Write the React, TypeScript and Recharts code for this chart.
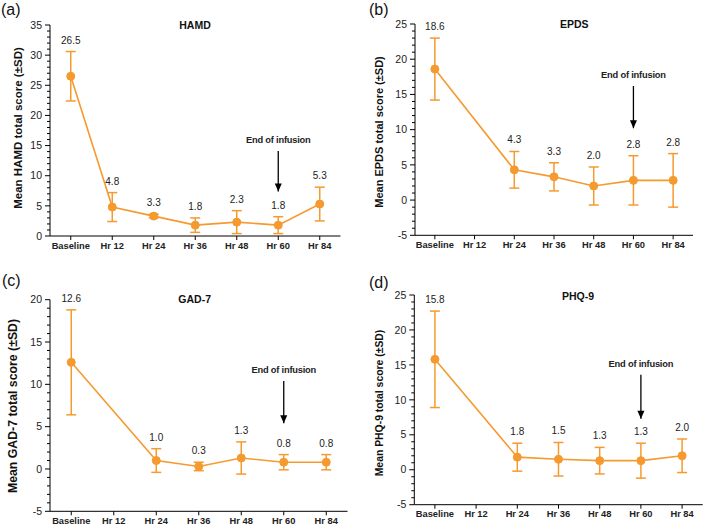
import React from "react";
import {
  LineChart,
  Line,
  XAxis,
  YAxis,
  ErrorBar,
  LabelList,
  ReferenceLine,
  ReferenceDot,
} from "recharts";

const ORANGE = "#F59A2F";
const FONT = "'Liberation Sans', Arial, sans-serif";

// time points
const categories = ["Baseline", "Hr 12", "Hr 24", "Hr 36", "Hr 48", "Hr 60", "Hr 84"];

// mean scores and SD per scale (Hr 12 not collected for EPDS / GAD-7 / PHQ-9)
const hamdMean = [26.5, 4.8, 3.3, 1.8, 2.3, 1.8, 5.3];
const hamdSd = [4.1, 2.4, 0.3, 1.2, 1.9, 1.4, 2.8];
const epdsMean = [18.6, null, 4.3, 3.3, 2.0, 2.8, 2.8];
const epdsSd = [4.4, null, 2.6, 2.0, 2.7, 3.5, 3.8];
const gadMean = [12.6, null, 1.0, 0.3, 1.3, 0.8, 0.8];
const gadSd = [6.2, null, 1.4, 0.5, 1.9, 0.9, 0.9];
const phqMean = [15.8, null, 1.8, 1.5, 1.3, 1.3, 2.0];
const phqSd = [6.9, null, 2.0, 2.4, 1.9, 2.5, 2.4];

// y axis major ticks
const hamdTicks = [0, 5, 10, 15, 20, 25, 30, 35];
const epdsTicks = [-5, 0, 5, 10, 15, 20, 25];
const gadTicks = [-5, 0, 5, 10, 15, 20];
const phqTicks = [-5, 0, 5, 10, 15, 20, 25];

// "End of infusion" arrow (top, tip) in score units
const hamdArrow = [14.1, 7.4];
const epdsArrow = [16.2, 10.2];
const gadArrow = [10.4, 5.4];
const phqArrow = [13.6, 7.3];

const ARROW_AT = "Hr 60";

type Num = number | null;

const buildRows = (means: Num[], sds: Num[]) =>
  categories.map((cat, i) => {
    const m = means[i];
    const s = sds[i];
    return {
      cat,
      mean: m,
      sd: s,
      upper: m == null || s == null ? null : m + s,
    };
  });

// every integer between the ends, used for minor tick marks
const withMinor = (majors: number[]) => {
  const out: number[] = [];
  for (let v = majors[0]; v <= majors[majors.length - 1]; v++) out.push(v);
  return out;
};

const YTick = (props: any) => {
  const { x, y, payload, majors } = props;
  const ax = x + 8; // tickSize 5 + tickMargin 3
  const isMajor = majors.includes(payload.value);
  return (
    <g>
      <line x1={ax - (isMajor ? 5 : 3)} x2={ax} y1={y} y2={y} stroke="#000" strokeWidth={1} />
      {isMajor && (
        <text
          x={x}
          y={y}
          dy="0.35em"
          textAnchor="end"
          fontSize={10.5}
          fontFamily={FONT}
          fill="#222"
        >
          {payload.value}
        </text>
      )}
    </g>
  );
};

const ValueLabel = (props: any) => {
  const { x, y, value } = props;
  if (value == null || x == null || y == null) return null;
  return (
    <text
      x={x}
      y={y - 8}
      textAnchor="middle"
      fontSize={10}
      fontFamily={FONT}
      fill="#222"
    >
      {Number(value).toFixed(1)}
    </text>
  );
};

interface PanelProps {
  left: number;
  top: number;
  width: number;
  height: number;
  margin: { top: number; right: number; bottom: number; left: number };
  xHeight: number;
  means: Num[];
  sds: Num[];
  ticks: number[];
  arrow: number[];
}

const Panel: React.FC<PanelProps> = ({
  left,
  top,
  width,
  height,
  margin,
  xHeight,
  means,
  sds,
  ticks,
  arrow,
}) => {
  const rows = buildRows(means, sds);
  return (
    <div style={{ position: "absolute", left, top, width, height }}>
      <LineChart width={width} height={height} data={rows} margin={margin}>
        <XAxis
          dataKey="cat"
          type="category"
          scale="band"
          height={xHeight}
          interval={0}
          tickSize={4}
          axisLine={{ stroke: "#000" }}
          tickLine={{ stroke: "#000" }}
          tick={{ fontSize: 9.3, fontWeight: "bold", fontFamily: FONT, fill: "#222" }}
        />
        <YAxis
          type="number"
          width={30}
          domain={[ticks[0], ticks[ticks.length - 1]]}
          ticks={withMinor(ticks)}
          interval={0}
          tickSize={5}
          tickMargin={3}
          tickLine={false}
          axisLine={{ stroke: "#000" }}
          tick={(p: any) => <YTick {...p} majors={ticks} />}
        />
        <ReferenceLine
          segment={[
            { x: ARROW_AT, y: arrow[0] },
            { x: ARROW_AT, y: arrow[1] },
          ]}
          stroke="#000"
          strokeWidth={1.3}
        />
        <ReferenceDot
          x={ARROW_AT}
          y={arrow[1]}
          shape={(p: any) => (
            <polygon
              points={`${p.cx - 3.5},${p.cy - 8} ${p.cx + 3.5},${p.cy - 8} ${p.cx},${p.cy}`}
              fill="#000"
            />
          )}
        />
        <ReferenceDot
          x={ARROW_AT}
          y={arrow[0]}
          shape={(p: any) => (
            <text
              x={p.cx}
              y={p.cy - 7.5}
              textAnchor="middle"
              fontSize={9.3}
              fontWeight="bold"
              fontFamily={FONT}
              fill="#222"
              letterSpacing={-0.2}
            >
              End of infusion
            </text>
          )}
        />
        <Line
          dataKey="mean"
          stroke={ORANGE}
          strokeWidth={1.6}
          connectNulls
          dot={{ r: 4, fill: ORANGE, stroke: ORANGE, strokeWidth: 1 }}
          activeDot={false}
          isAnimationActive={false}
        >
          <ErrorBar dataKey="sd" width={5} stroke={ORANGE} strokeWidth={1.5} direction="y" />
        </Line>
        <Line
          dataKey="upper"
          stroke="none"
          dot={false}
          activeDot={false}
          isAnimationActive={false}
        >
          <LabelList dataKey="mean" content={<ValueLabel />} />
        </Line>
      </LineChart>
    </div>
  );
};

const Overlay = () => {
  const letter = { fontSize: 16, fontFamily: FONT, fill: "#111" };
  const title = {
    fontSize: 10.5,
    fontWeight: "bold" as const,
    fontFamily: FONT,
    fill: "#111",
    textAnchor: "middle" as const,
  };
  const ylab = {
    fontWeight: "bold" as const,
    fontFamily: FONT,
    fill: "#111",
    textAnchor: "middle" as const,
    dominantBaseline: "central" as const,
  };
  return (
    <svg
      width={709}
      height={528}
      style={{ position: "absolute", left: 0, top: 0, pointerEvents: "none" }}
    >
      <text x={1} y={15} {...letter}>(a)</text>
      <text x={369} y={15} {...letter}>(b)</text>
      <text x={2} y={285.5} {...letter}>(c)</text>
      <text x={369} y={287.5} {...letter}>(d)</text>

      <text x={195} y={28.7} {...title}>HAMD</text>
      <text x={574.3} y={27.7} {...title}>EPDS</text>
      <text x={194.7} y={303.4} {...title}>GAD-7</text>
      <text x={578} y={299.7} {...title}>PHQ-9</text>

      <text transform="translate(18.3,128) rotate(-90)" fontSize={11.5} {...ylab}>
        Mean HAMD total score (±SD)
      </text>
      <text transform="translate(379,132) rotate(-90)" fontSize={11} {...ylab}>
        Mean EPDS total score (±SD)
      </text>
      <text transform="translate(13.3,406) rotate(-90)" fontSize={12.3} {...ylab}>
        Mean GAD-7 total score (±SD)
      </text>
      <text transform="translate(379,403) rotate(-90)" fontSize={10.4} {...ylab}>
        Mean PHQ-9 total score (±SD)
      </text>
    </svg>
  );
};

export default function App() {
  return (
    <div
      style={{
        position: "absolute",
        left: 0,
        top: 0,
        width: 709,
        height: 528,
        background: "#fff",
        overflow: "hidden",
      }}
    >
      <Panel
        left={0}
        top={0}
        width={354}
        height={264}
        margin={{ top: 25, right: 13.5, bottom: 8, left: 20 }}
        xHeight={20}
        means={hamdMean}
        sds={hamdSd}
        ticks={hamdTicks}
        arrow={hamdArrow}
      />
      <Panel
        left={354}
        top={0}
        width={355}
        height={264}
        margin={{ top: 24, right: 16, bottom: 8.7, left: 31 }}
        xHeight={20}
        means={epdsMean}
        sds={epdsSd}
        ticks={epdsTicks}
        arrow={epdsArrow}
      />
      <Panel
        left={0}
        top={264}
        width={354}
        height={264}
        margin={{ top: 35.7, right: 6.5, bottom: 0.7, left: 20 }}
        xHeight={16}
        means={gadMean}
        sds={gadSd}
        ticks={gadTicks}
        arrow={gadArrow}
      />
      <Panel
        left={354}
        top={264}
        width={355}
        height={264}
        margin={{ top: 31, right: 6.3, bottom: 3.3, left: 30.3 }}
        xHeight={20}
        means={phqMean}
        sds={phqSd}
        ticks={phqTicks}
        arrow={phqArrow}
      />
      <Overlay />
    </div>
  );
}
